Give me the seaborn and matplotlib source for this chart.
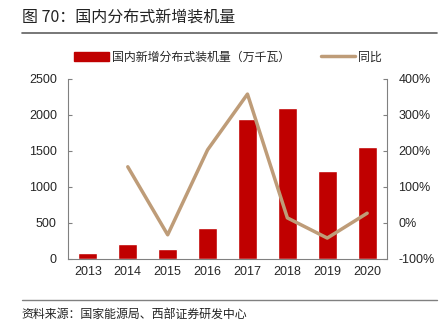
import matplotlib
matplotlib.use("Agg")
import matplotlib.pyplot as plt
import seaborn as sns
import numpy as np
import pandas as pd
from matplotlib.lines import Line2D
from matplotlib.patches import Patch

years = ["2013", "2014", "2015", "2016", "2017", "2018", "2019", "2020"]
capacity = [80, 205, 139, 424, 1944, 2096, 1220, 1552]
yoy = [np.nan, 156, -33, 203, 358, 14, -42, 27]

sns.set_style("white")
plt.rcParams['font.family'] = ['Liberation Sans', 'Noto Sans CJK SC', 'DejaVu Sans']

bar_color = "#C00000"
line_color = "#BE9C78"

fig = plt.figure(figsize=(4.47, 3.29), dpi=100)
ax = fig.add_axes([0.152, 0.213, 0.714, 0.547])
df = pd.DataFrame({"year": years, "cap": capacity, "yoy": yoy})
sns.barplot(data=df, x="year", y="cap", color=bar_color, width=0.48, ax=ax, saturation=1)
ax.set_ylim(0, 2500)
ax.set_yticks([0, 500, 1000, 1500, 2000, 2500])
ax.set_xlim(-0.5, 7.5)
ax.set_xlabel("")
ax.set_ylabel("")
ax.set_xticks(np.arange(len(years)))
ax.set_xticklabels(years)
ax.tick_params(axis="x", length=0, labelsize=9, pad=5)
ax.set_xticks(np.arange(-0.5, len(years), 1), minor=True)
ax.tick_params(axis="x", which="minor", direction="in", length=3, color="#808080")
ax.tick_params(axis="y", direction="in", length=3, labelsize=9, color="#808080", pad=8)

ax2 = ax.twinx()
ax2.set_position([0.152, 0.213, 0.714, 0.547])
sns.lineplot(x=np.arange(len(years)), y=df["yoy"], color=line_color, linewidth=2.5, ax=ax2)
ax2.set_ylim(-100, 400)
ax2.set_yticks([-100, 0, 100, 200, 300, 400])
ax2.set_yticklabels([f"{v}%" for v in [-100, 0, 100, 200, 300, 400]])
ax2.set_ylabel("")
ax2.tick_params(axis="y", direction="in", length=3, labelsize=9, color="#808080", pad=8)
ax2.set_xlim(-0.5, 7.5)

for a in (ax, ax2):
    a.spines["top"].set_visible(False)
    for s in ("left", "right", "bottom"):
        a.spines[s].set_color("#808080")
        a.spines[s].set_linewidth(0.8)
ax.spines["right"].set_visible(False)
ax2.spines["left"].set_visible(False)
ax2.spines["bottom"].set_visible(False)

handles = [Patch(facecolor=bar_color, edgecolor=bar_color),
           Line2D([0], [0], color=line_color, linewidth=2.5)]
labels = ["国内新增分布式装机量（万千瓦）", "同比"]
fig.legend(handles, labels, loc="center", bbox_to_anchor=(0.51, 0.827), ncol=2,
           frameon=False, handlelength=2.9, handleheight=0.8,
           columnspacing=2.6, handletextpad=0.25,
           prop={"family": ["Noto Sans CJK SC"], "size": 8.6})

fig.text(0.049, 0.945, "图 70：国内分布式新增装机量", fontsize=11.5,
         family=["Noto Sans CJK SC", "DejaVu Sans"], va="center", color="#222222")
fig.add_artist(Line2D([0.049, 0.977], [0.9, 0.9], color="#606060", linewidth=1.2))
fig.add_artist(Line2D([0.049, 0.977], [0.088, 0.088], color="#808080", linewidth=1.0))
fig.text(0.049, 0.045, "资料来源：国家能源局、西部证券研发中心", fontsize=8.6,
         family=["Noto Sans CJK SC", "DejaVu Sans"], va="center", color="#222222")

fig.savefig("out.png", dpi=100)
